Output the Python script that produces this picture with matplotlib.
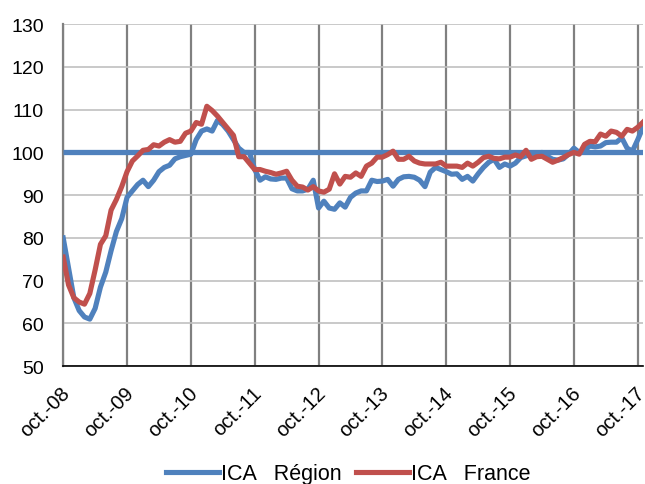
import numpy as np
import matplotlib
matplotlib.use('Agg')
import matplotlib.pyplot as plt
from matplotlib.transforms import ScaledTranslation

# monthly index values, oct-08 .. nov-17
region = [80, 73, 66, 63, 61.5, 61, 63.5, 68.5, 72, 77,
          81.5, 84.5, 89.5, 91, 92.5, 93.5, 92, 93.5, 95.5, 96.5,
          97, 98.5, 99, 99.3, 99.6, 103, 105, 105.5, 105, 107.5,
          106.5, 105, 103, 101, 100, 100, 96, 93.5, 94.3, 93.8,
          93.7, 94, 94, 91.5, 91, 91, 91.4, 93.5, 87, 88.6,
          87, 86.7, 88.2, 87.2, 89.5, 90.5, 91, 91, 93.5, 93.2,
          93.3, 93.7, 92.1, 93.7, 94.3, 94.4, 94.2, 93.5, 92, 95.4,
          96.5, 96, 95.5, 94.9, 95, 93.7, 94.4, 93.3, 95, 96.5,
          97.7, 98.4, 96.5, 97.3, 96.8, 97.5, 98.8, 99.2, 99.6, 99.8,
          100, 99.1, 98.4, 98.2, 98.5, 99.6, 101, 100, 100.5, 101.5,
          101.3, 101.5, 102.3, 102.4, 102.4, 103.4, 101, 100.3, 103, 105.9]
france = [75.5, 69, 66, 65, 64.5, 67, 72.5, 78.5, 80.5, 86.5,
          89, 92, 95.5, 98, 99.2, 100.5, 100.7, 101.8, 101.5, 102.4,
          103, 102.4, 102.6, 104.5, 105, 107, 106.6, 110.8, 109.8, 108.5,
          107, 105.5, 104, 99, 99, 97.5, 96, 96, 95.6, 95.3,
          94.9, 95.2, 95.6, 93.5, 92.1, 91.9, 91.2, 92, 91, 90.7,
          91.4, 95, 92.6, 94.4, 94.2, 95.2, 94.4, 96.8, 97.5, 98.9,
          98.9, 99.5, 100.3, 98.4, 98.4, 99.1, 98, 97.5, 97.3, 97.3,
          97.3, 97.7, 96.8, 96.8, 96.8, 96.5, 97.5, 96.8, 97.7, 98.8,
          99.1, 98.6, 98.5, 98.9, 98.9, 99.4, 99, 100.5, 98.4, 99,
          99.1, 98.4, 97.7, 98.2, 98.8, 99.5, 100, 99.6, 101.9, 102.6,
          102.5, 104.3, 103.8, 105, 104.7, 103.8, 105.4, 105, 105.9, 107.1]
base = 100
tick_labels = ['oct.-08', 'oct.-09', 'oct.-10', 'oct.-11', 'oct.-12',
               'oct.-13', 'oct.-14', 'oct.-15', 'oct.-16', 'oct.-17']

plt.rcParams['font.family'] = ['Liberation Sans', 'DejaVu Sans']

blue = '#4f81bd'
red = '#c0504d'

fig = plt.figure(figsize=(6.45, 4.85), dpi=100)
ax = fig.add_axes([0.098, 0.243, 0.899, 0.705])

x = np.arange(len(region))
ax.plot(x, [base] * len(x), color=blue, lw=3.8, solid_capstyle='butt', zorder=3)
ax.plot(x, region, color=blue, lw=3.7, label='ICA   Région', zorder=4)
ax.plot(x, france, color=red, lw=3.7, label='ICA   France', zorder=5)

ax.set_xlim(0, len(x) - 1)
ax.set_ylim(50, 130)
ax.set_yticks(range(50, 131, 10))
ax.set_xticks(np.arange(0, len(x), 12))
ax.set_xticklabels(tick_labels, rotation=45, ha='right', va='top',
                   rotation_mode='anchor')
ax.tick_params(axis='y', labelsize=14, length=0, pad=14)
ax.tick_params(axis='x', labelsize=14.5, length=0, pad=12)

# small nudge left so the last label stays inside the picture
shift = ScaledTranslation(-3 / 100, 0, fig.dpi_scale_trans)
for lab in ax.get_xticklabels():
    lab.set_transform(lab.get_transform() + shift)

ax.yaxis.grid(True, color='#c0c0c0', lw=1.2)
ax.xaxis.grid(True, color='#808080', lw=1.6)
ax.set_axisbelow(True)
for s in ['top', 'right']:
    ax.spines[s].set_visible(False)
ax.spines['left'].set_color('#808080')
ax.spines['left'].set_linewidth(1.6)
ax.spines['bottom'].set_color('black')
ax.spines['bottom'].set_linewidth(1.2)

fig.legend(loc='center', bbox_to_anchor=(0.54, 0.021), ncol=2,
           frameon=False, fontsize=15.5, handlelength=2.45,
           handletextpad=0.1, columnspacing=0.7)

fig.savefig('out.png', dpi=100)
